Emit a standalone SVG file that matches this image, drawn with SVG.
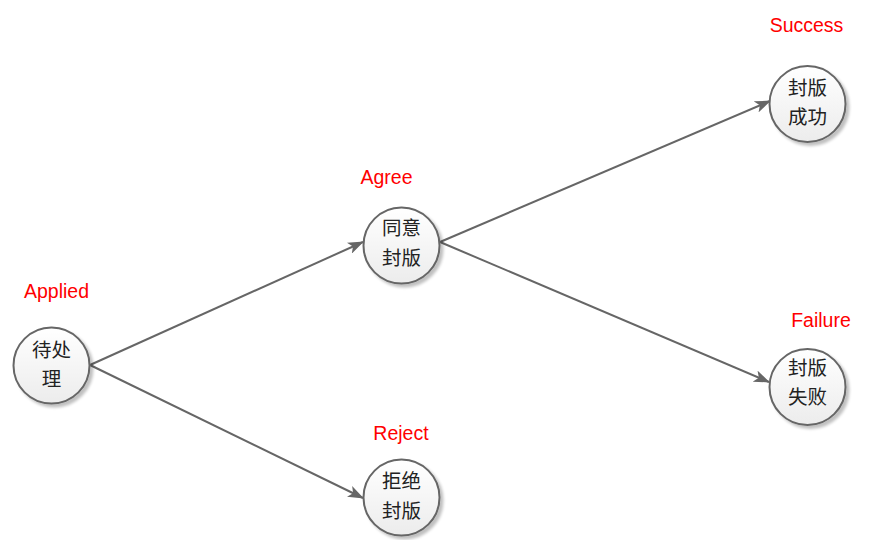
<svg xmlns="http://www.w3.org/2000/svg" width="872" height="540" viewBox="0 0 872 540">
<defs>
<linearGradient id="g" x1="0" y1="0" x2="0" y2="1">
<stop offset="0" stop-color="#ffffff"/>
<stop offset="1" stop-color="#ececec"/>
</linearGradient>
<filter id="sh" x="-30%" y="-30%" width="160%" height="160%">
<feGaussianBlur in="SourceAlpha" stdDeviation="1.5"/>
<feOffset dx="3" dy="3" result="b"/>
<feComponentTransfer><feFuncA type="linear" slope="0.25"/></feComponentTransfer>
<feMerge><feMergeNode/><feMergeNode in="SourceGraphic"/></feMerge>
</filter>
<marker id="arr" viewBox="0 0 16 12" refX="15" refY="6" markerWidth="16" markerHeight="12" markerUnits="userSpaceOnUse" orient="auto">
<path d="M0,0 L16,6 L0,12 L4,6 Z" fill="#666666"/>
</marker>
</defs>
<style>
.node circle{fill:url(#g);stroke:#666666;stroke-width:2;filter:url(#sh)}
.node text{font-family:"Noto Sans CJK SC","Liberation Sans",sans-serif;font-size:19.5px;fill:#222222;text-anchor:middle}
.lbl{font-family:"Liberation Sans",Arial,sans-serif;font-size:19.5px;fill:#ff0000;text-anchor:middle}
.edges line{stroke:#666666;stroke-width:2;marker-end:url(#arr)}
</style>
<g class="edges">
<line x1="90" y1="365" x2="363" y2="242"/>
<line x1="90" y1="365" x2="363" y2="498"/>
<line x1="440" y1="242" x2="770" y2="101"/>
<line x1="440" y1="242" x2="769" y2="382"/>
</g>
<g id="n1" class="node">
<circle cx="51.5" cy="365.5" r="38"/>
<text x="51.5" y="357">待处</text>
<text x="51.5" y="386">理</text>
</g>
<g id="n2" class="node">
<circle cx="401.5" cy="245.5" r="38"/>
<text x="401.5" y="235">同意</text>
<text x="401.5" y="265">封版</text>
</g>
<g id="n3" class="node">
<circle cx="401.5" cy="497.5" r="38"/>
<text x="401.5" y="488">拒绝</text>
<text x="401.5" y="518">封版</text>
</g>
<g id="n4" class="node">
<circle cx="807.5" cy="104" r="38"/>
<text x="807.5" y="95">封版</text>
<text x="807.5" y="124">成功</text>
</g>
<g id="n5" class="node">
<circle cx="807.5" cy="387" r="38"/>
<text x="807.5" y="375">封版</text>
<text x="807.5" y="404">失败</text>
</g>
<g id="labels">
<text class="lbl" x="56.5" y="298">Applied</text>
<text class="lbl" x="386.5" y="184">Agree</text>
<text class="lbl" x="806.5" y="32">Success</text>
<text class="lbl" x="401" y="440">Reject</text>
<text class="lbl" x="821" y="327">Failure</text>
</g>
</svg>
